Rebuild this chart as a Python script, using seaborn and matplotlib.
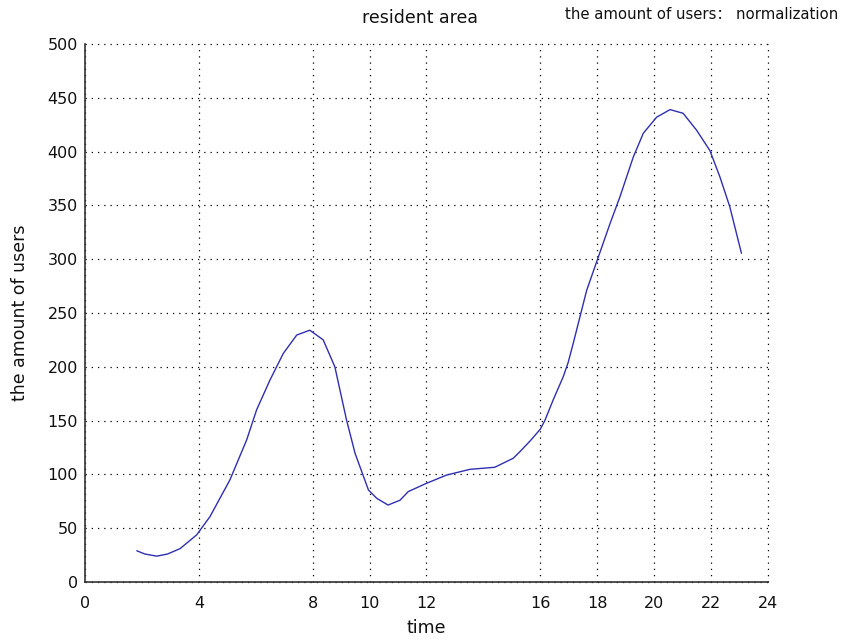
import matplotlib
matplotlib.use("Agg")
import matplotlib.pyplot as plt
import seaborn as sns
import pandas as pd
from matplotlib.ticker import MultipleLocator

# values
hours = [1.82, 2.1, 2.52, 2.9, 3.34, 3.92, 4.39, 5.09, 5.68, 6.03, 6.5, 6.97,
         7.44, 7.9, 8.37, 8.78, 9.19, 9.49, 9.96, 10.25, 10.65, 11.07, 11.36,
         12.0, 12.71, 13.53, 14.4, 15.05, 15.28, 15.64, 16.0, 16.16, 16.45,
         16.81, 16.98, 17.16, 17.63, 18.04, 18.45, 18.8, 19.27, 19.62, 20.09,
         20.56, 21.02, 21.49, 21.96, 22.31, 22.66, 23.07]
users = [29, 26, 24, 26, 31, 43.7, 60.7, 94.8, 132, 160, 187.7, 212.5,
         229.5, 234, 225, 200, 150.6, 119.6, 85.5, 77.8, 71.5, 76, 84,
         91.7, 99.4, 104.7, 106.6, 115, 121, 131, 142, 150, 169,
         191, 204, 222, 271, 302, 333, 358, 395, 417, 432,
         439, 435.6, 420, 401, 376.7, 348.8, 305.5]

x_ticks = [0, 4, 8, 10, 12, 16, 18, 20, 22, 24]
y_ticks = list(range(0, 501, 50))

sns.set_style("white")
plt.rcParams["font.family"] = ["DejaVu Sans", "Noto Sans CJK SC"]

df = pd.DataFrame({"time": hours, "users": users})

fig = plt.figure(figsize=(8.42, 6.44), dpi=100)
ax = fig.add_axes([0.101, 0.0963, 0.811, 0.8354])

sns.lineplot(data=df, x="time", y="users", ax=ax, color="#2f2fb0", lw=1.0)

ax.set_xlim(0, 24)
ax.set_ylim(0, 500)
ax.set_xticks(x_ticks)
ax.set_yticks(y_ticks)
ax.xaxis.set_minor_locator(MultipleLocator(0.5))
ax.tick_params(axis="both", which="major", direction="in", length=6, width=1,
               color="#333333", labelsize=11.5, labelcolor="#111111")
ax.tick_params(axis="x", which="major", pad=10)
ax.tick_params(axis="y", which="major", pad=5)
ax.tick_params(axis="x", which="minor", direction="in", length=3.5, width=1,
               color="#333333")

ax.grid(True, which="major", color="black", linestyle=(0, (1, 4)), lw=0.9)
for gl in ax.get_xgridlines() + ax.get_ygridlines():
    gl.set_clip_on(False)
for side in ["top", "right"]:
    ax.spines[side].set_visible(False)
for side in ["left", "bottom"]:
    ax.spines[side].set_color("#333333")
    ax.spines[side].set_linewidth(1.2)

ax.set_xlabel("time", fontsize=12.5, color="#111111")
ax.xaxis.set_label_coords(0.5, -0.068)
ax.set_ylabel("the amount of users", fontsize=12.5, color="#111111")
ax.yaxis.set_label_coords(-0.082, 0.5)
fig.text(0.499, 0.972, "resident area", fontsize=12.5, ha="center",
         va="center", color="#111111")
fig.text(0.995, 0.978, "the amount of users： normalization", fontsize=10.7,
         ha="right", va="center", color="#111111")

fig.savefig("out.png", dpi=100)
